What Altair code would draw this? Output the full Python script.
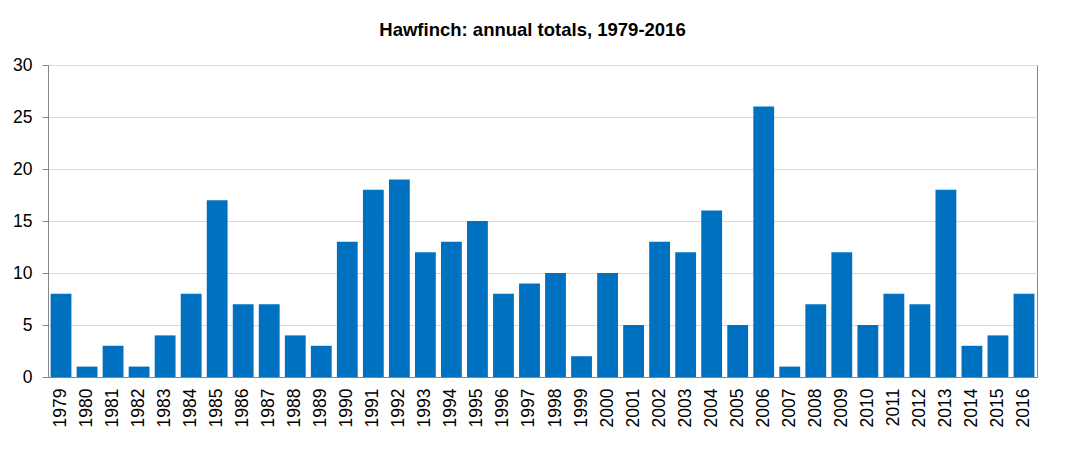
import altair as alt
import pandas as pd

years = [str(y) for y in range(1979, 2017)]
totals = [8, 1, 3, 1, 4, 8, 17, 7, 7, 4, 3, 13, 18, 19, 12, 13, 15, 8, 9, 10,
          2, 10, 5, 13, 12, 16, 5, 26, 1, 7, 12, 5, 8, 7, 18, 3, 4, 8]
y_ticks = [0, 5, 10, 15, 20, 25, 30]

df = pd.DataFrame({"year": years, "total": totals})

FONT = "Liberation Sans"

chart = alt.Chart(df).mark_bar(color="#0070C0").encode(
    x=alt.X("year:N", sort=years,
            scale=alt.Scale(paddingInner=0.2, paddingOuter=0.1),
            axis=alt.Axis(title=None, labelAngle=-90, tickSize=0, labelPadding=11,
                          labelFontSize=17.5, labelFont=FONT, labelColor="#000000",
                          domainColor="#868686", grid=False)),
    y=alt.Y("total:Q", scale=alt.Scale(domain=[0, 30], nice=False),
            axis=alt.Axis(title=None, values=y_ticks, tickSize=6, labelPadding=10,
                          labelFontSize=17.5, labelFont=FONT, labelColor="#000000",
                          domainColor="#868686", tickColor="#868686",
                          gridColor="#D9D9D9")),
).properties(
    width=989,
    height=312,
    autosize=alt.AutoSizeParams(type="none"),
    padding={"left": 40, "top": 57, "right": 20, "bottom": 65},
    title=alt.TitleParams("Hawfinch: annual totals, 1979-2016", font=FONT, fontSize=18.5,
                          fontWeight="bold", color="#000000", anchor="middle",
                          baseline="alphabetic", offset=2, dx=-10),
).configure_view(stroke="#868686", strokeWidth=1)

chart.save("out.html", embed_options={"renderer": "svg", "actions": False})
